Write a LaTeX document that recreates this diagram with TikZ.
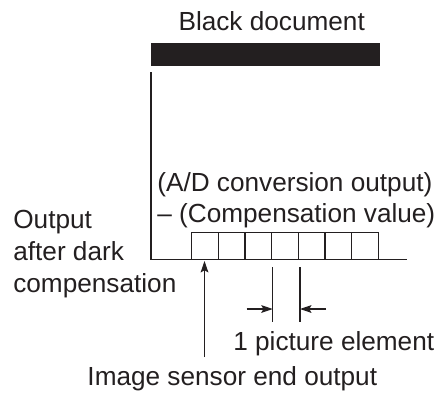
\documentclass[tikz,border=0pt]{standalone}
\usepackage{fontspec}
\setmainfont{Liberation Sans}
\usepackage{tikz}
\usetikzlibrary{arrows.meta}
\definecolor{ink}{RGB}{35,31,32}
\tikzset{
  axis/.style={draw=ink, line width=1.1pt},
  cell/.style={draw=ink, line width=0.75pt},
  label/.style={inner sep=0pt, text=ink, font=\fontsize{14.9}{17.2}\selectfont},
  pointer/.style={draw=ink, line width=0.6pt, -{Stealth[length=6.5pt, width=4.4pt, inset=1.2pt]}},
  dimline/.style={draw=ink, line width=0.6pt}
}

\begin{document}
\begin{tikzpicture}[x=0.02cm, y=-0.02cm]
		\useasboundingbox (0,0) rectangle (442,396);
		% black document
		\node[label, anchor=base] (title) at (271.7,30) {Black document};
		\fill[ink] (150.7,43) rectangle (380,66);
		% axes
		\coordinate (top) at (151,72);
		\coordinate (origin) at (151,259.5);
		\coordinate (right) at (406.7,259.5);
		\draw[axis] (top) -- (origin) -- (right);
		% picture elements
		\foreach \i in {0,...,6}
			\draw[cell] (191.7+26.67*\i,259.5) rectangle ++(26.67,-26.8);
		%
		\node[label, anchor=base west, align=left] (value) at (157,222) {(A/D conversion output)\\-- (Compensation value)};
		\node[label, anchor=base west, align=left, font=\fontsize{14.9}{18.2}\selectfont] (output) at (13,292) {Output\\after dark\\compensation};
		% end output arrow
		\coordinate (s0) at (204.5,357);
		\coordinate (s1) at (204.5,261);
		\draw[pointer] (s0) -- (s1);
		\node[label, anchor=base] (sensor) at (232.3,385) {Image sensor end output};
		% one picture element
		\coordinate (e1) at (272.7,267);
		\coordinate (e1b) at (272.7,322);
		\coordinate (e2) at (300,267);
		\coordinate (e2b) at (300,322);
		\draw[dimline] (e1) -- (e1b);
		\draw[dimline] (e2) -- (e2b);
		\coordinate (a1) at (246.7,309);
		\coordinate (a2) at (326,309);
		\draw[pointer] (a1) -- (a1 -| e1);
		\draw[pointer] (a2) -- (a2 -| e2);
		\node[label, anchor=base west] (element) at (233,350) {1 picture element};
	\end{tikzpicture}
\end{document}
